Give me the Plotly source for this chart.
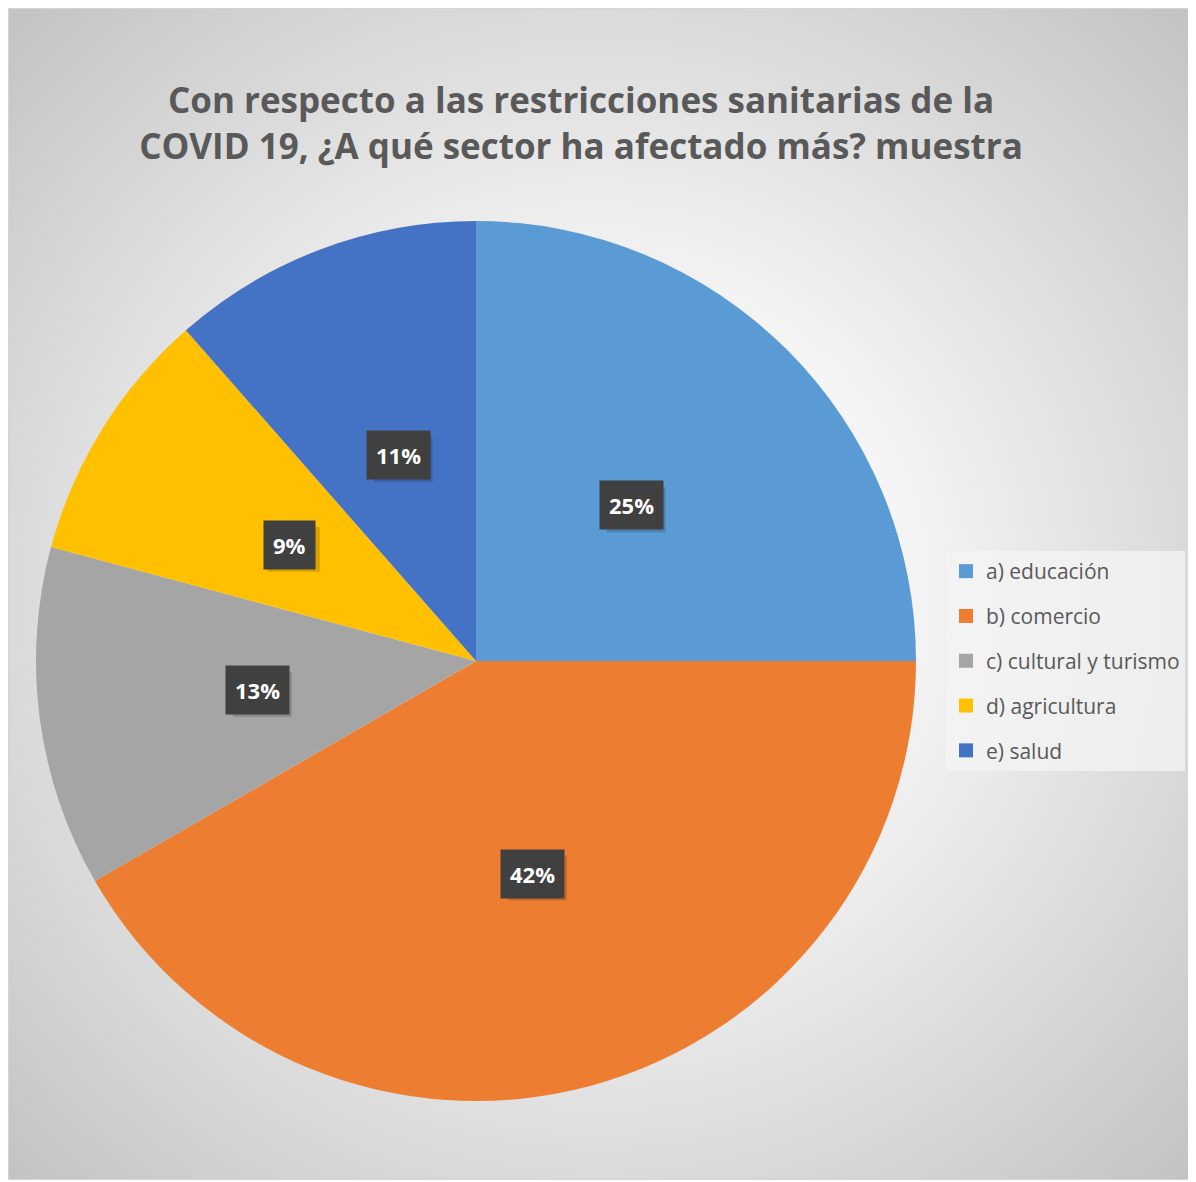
import math, base64
import plotly.graph_objects as go

# ---- data ----
categories = ["a) educación", "b) comercio", "c) cultural y turismo", "d) agricultura", "e) salud"]
counts = [24, 40, 12, 9, 11]
colors = ["#5B9BD5", "#ED7D31", "#A5A5A5", "#FFC000", "#4472C4"]
title_text = "Con respecto a las restricciones sanitarias de la<br>COVID 19, ¿A qué sector ha afectado más? muestra"

W, H = 1196, 1182
OFF = 8  # page body margin
# pie domain (paper fractions)
dom_x = [(36 - OFF) / W, (916 - OFF) / W]
dom_y = [1 - (1101 - OFF) / H, 1 - (221 - OFF) / H]

fig = go.Figure()
fig.add_trace(go.Pie(
    labels=categories, values=counts, sort=False, direction="clockwise", rotation=0,
    marker=dict(colors=colors, line=dict(width=0)),
    textinfo="none", hoverinfo="label+percent", showlegend=False,
    domain=dict(x=dom_x, y=dom_y),
))

# legend entries (one per category, to control spacing)
for cat, col in zip(categories, colors):
    fig.add_trace(go.Scatter(
        x=[None], y=[None], mode="markers", name=cat, legendgroup=cat,
        marker=dict(symbol="square", size=14, color=col), showlegend=True,
    ))

# percentage labels at half radius in each slice's middle
total = sum(counts)
cx = (dom_x[0] + dom_x[1]) / 2
cy = (dom_y[0] + dom_y[1]) / 2
R = min((dom_x[1] - dom_x[0]) * W, (dom_y[1] - dom_y[0]) * H) / 2
shapes = []
cum = 0
for v in counts:
    mid = (cum + v / 2) / total * 2 * math.pi
    cum += v
    px = cx + 0.5 * R * math.sin(mid) / W
    py = cy + 0.5 * R * math.cos(mid) / H
    pct = int(math.floor(v / total * 100 + 0.5))
    label = str(pct) + "%"
    # soft drop shadow behind the label box (pixel-sized around the label anchor)
    bw = 7 * len(label) + 37
    shapes.append(dict(type="rect", xref="paper", yref="paper", xsizemode="pixel", ysizemode="pixel",
                       xanchor=px, yanchor=py, x0=-bw / 2 + 4, x1=bw / 2 + 5, y0=-27, y1=18,
                       fillcolor="rgba(0,0,0,0.16)", line=dict(width=0), layer="above"))
    fig.add_annotation(x=px, y=py, xref="paper", yref="paper", text="<b>" + label + "</b>",
                       showarrow=False, xanchor="center", yanchor="middle",
                       font=dict(family="Open Sans", size=22, color="white"),
                       bgcolor="#404040", borderpad=9)

# radial gradient background as svg image
svg = (
    '<svg xmlns="http://www.w3.org/2000/svg" width="1182" height="1172" viewBox="0 0 1182 1172">'
    '<defs><radialGradient id="g" cx="50%" cy="50%" r="71%">'
    '<stop offset="0" stop-color="#ffffff"/><stop offset="0.35" stop-color="#f6f6f6"/>'
    '<stop offset="1" stop-color="#c2c2c2"/></radialGradient></defs>'
    '<rect x="0.5" y="0.5" width="1181" height="1171" fill="url(#g)" stroke="#d4d4d4" stroke-width="1"/>'
    '</svg>'
)
src = "data:image/svg+xml;base64," + base64.b64encode(svg.encode()).decode()

fig.update_layout(
    width=W, height=H, autosize=False,
    margin=dict(l=0, r=0, t=0, b=0),
    paper_bgcolor="white", plot_bgcolor="rgba(0,0,0,0)",
    xaxis=dict(visible=False), yaxis=dict(visible=False),
    shapes=shapes,
    images=[dict(source=src, xref="paper", yref="paper", x=0, y=1,
                 sizex=1182 / W, sizey=1172 / H, xanchor="left", yanchor="top",
                 sizing="stretch", layer="below")],
    title=dict(text="<b>" + title_text + "</b>", x=(581 - OFF) / W, xanchor="center",
               y=1 - (122 - OFF - 9) / H, yanchor="middle", xref="paper", yref="paper",
               font=dict(family="Open Sans", size=35, color="#595959")),
    legend=dict(x=(946 - OFF) / W, y=1 - (551 - OFF) / H, xanchor="left", yanchor="top",
                bgcolor="rgba(244,244,244,0.75)", font=dict(family="Open Sans", size=21, color="#595959"),
                tracegroupgap=14.5, itemwidth=30, traceorder="grouped"),
    hovermode=False,
)

fig.write_html("out.html")
